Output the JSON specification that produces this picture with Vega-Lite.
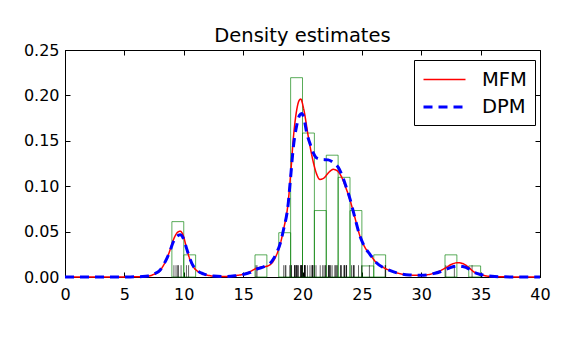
{
  "$schema": "https://vega.github.io/schema/vega-lite/v6.json",
  "width": 475,
  "height": 227,
  "autosize": {"type": "none"},
  "padding": {"left": 65, "top": 50, "right": 46, "bottom": 63},
  "background": "white",
  "title": {"text": "Density estimates", "fontSize": 19.5, "font": "DejaVu Sans", "fontWeight": "normal", "color": "black", "offset": -19, "baseline": "alphabetic", "anchor": "middle"},
  "config": {
    "view": {"stroke": "black", "strokeWidth": 1},
    "axis": {"grid": false, "domainColor": "black", "tickColor": "black", "labelColor": "black", "labelFont": "DejaVu Sans", "labelFontSize": 16, "tickSize": -5, "title": null, "labelFlush": false, "labelOverlap": false}
  },
  "datasets": {
    "hist": [
      {"x0": 9, "x1": 10, "density": 0.06098},
      {"x0": 10, "x1": 11, "density": 0.02439},
      {"x0": 16, "x1": 17, "density": 0.02439},
      {"x0": 18, "x1": 19, "density": 0.04878},
      {"x0": 19, "x1": 20, "density": 0.21951},
      {"x0": 20, "x1": 21, "density": 0.15854},
      {"x0": 21, "x1": 22, "density": 0.07317},
      {"x0": 22, "x1": 23, "density": 0.13415},
      {"x0": 23, "x1": 24, "density": 0.10976},
      {"x0": 24, "x1": 25, "density": 0.07317},
      {"x0": 25, "x1": 26, "density": 0.0122},
      {"x0": 26, "x1": 27, "density": 0.02439},
      {"x0": 32, "x1": 33, "density": 0.02439},
      {"x0": 34, "x1": 35, "density": 0.0122}
    ],
    "rug": [
      {"v": 9.172}, {"v": 9.35}, {"v": 9.483}, {"v": 9.558}, {"v": 9.775}, {"v": 10.227}, {"v": 10.406}, {"v": 16.084}, {"v": 16.17}, {"v": 18.419},
      {"v": 18.552}, {"v": 18.6}, {"v": 18.927}, {"v": 19.052}, {"v": 19.07}, {"v": 19.33}, {"v": 19.343}, {"v": 19.349}, {"v": 19.44}, {"v": 19.473},
      {"v": 19.529}, {"v": 19.541}, {"v": 19.547}, {"v": 19.663}, {"v": 19.846}, {"v": 19.856}, {"v": 19.863}, {"v": 19.914}, {"v": 19.918}, {"v": 19.973},
      {"v": 19.989}, {"v": 20.166}, {"v": 20.175}, {"v": 20.179}, {"v": 20.196}, {"v": 20.215}, {"v": 20.221}, {"v": 20.415}, {"v": 20.629}, {"v": 20.795},
      {"v": 20.821}, {"v": 20.846}, {"v": 20.875}, {"v": 20.986}, {"v": 21.137}, {"v": 21.492}, {"v": 21.701}, {"v": 21.814}, {"v": 21.921}, {"v": 21.96},
      {"v": 22.185}, {"v": 22.209}, {"v": 22.242}, {"v": 22.249}, {"v": 22.314}, {"v": 22.374}, {"v": 22.495}, {"v": 22.746}, {"v": 22.747}, {"v": 22.888},
      {"v": 22.914}, {"v": 23.206}, {"v": 23.241}, {"v": 23.263}, {"v": 23.484}, {"v": 23.538}, {"v": 23.542}, {"v": 23.666}, {"v": 23.706}, {"v": 23.711},
      {"v": 24.129}, {"v": 24.285}, {"v": 24.289}, {"v": 24.366}, {"v": 24.717}, {"v": 24.99}, {"v": 25.633}, {"v": 26.96}, {"v": 26.995}, {"v": 32.065},
      {"v": 32.789}, {"v": 34.279}
    ],
    "mfm": [
      {"model": "MFM", "x": 0, "y": 0}, {"model": "MFM", "x": 2, "y": 0}, {"model": "MFM", "x": 4, "y": 0}, {"model": "MFM", "x": 5.5, "y": 0.0001},
      {"model": "MFM", "x": 6.5, "y": 0.0004}, {"model": "MFM", "x": 7, "y": 0.001}, {"model": "MFM", "x": 7.5, "y": 0.003}, {"model": "MFM", "x": 8, "y": 0.007},
      {"model": "MFM", "x": 8.3, "y": 0.013}, {"model": "MFM", "x": 8.6, "y": 0.021}, {"model": "MFM", "x": 8.85, "y": 0.03}, {"model": "MFM", "x": 9.1, "y": 0.04},
      {"model": "MFM", "x": 9.4, "y": 0.048}, {"model": "MFM", "x": 9.7, "y": 0.0505}, {"model": "MFM", "x": 9.95, "y": 0.046}, {"model": "MFM", "x": 10.25, "y": 0.031},
      {"model": "MFM", "x": 10.5, "y": 0.02}, {"model": "MFM", "x": 10.8, "y": 0.0114}, {"model": "MFM", "x": 11.2, "y": 0.006}, {"model": "MFM", "x": 11.65, "y": 0.0033},
      {"model": "MFM", "x": 12.5, "y": 0.001}, {"model": "MFM", "x": 13.5, "y": 0.0005}, {"model": "MFM", "x": 14.3, "y": 0.0015}, {"model": "MFM", "x": 15, "y": 0.003},
      {"model": "MFM", "x": 15.6, "y": 0.006}, {"model": "MFM", "x": 16.1, "y": 0.0095}, {"model": "MFM", "x": 16.6, "y": 0.011}, {"model": "MFM", "x": 17, "y": 0.0118},
      {"model": "MFM", "x": 17.4, "y": 0.015}, {"model": "MFM", "x": 17.8, "y": 0.024}, {"model": "MFM", "x": 18.1, "y": 0.035}, {"model": "MFM", "x": 18.4, "y": 0.052},
      {"model": "MFM", "x": 18.8, "y": 0.083}, {"model": "MFM", "x": 19, "y": 0.113}, {"model": "MFM", "x": 19.23, "y": 0.153}, {"model": "MFM", "x": 19.5, "y": 0.183},
      {"model": "MFM", "x": 19.7, "y": 0.194}, {"model": "MFM", "x": 19.85, "y": 0.196}, {"model": "MFM", "x": 20.1, "y": 0.185}, {"model": "MFM", "x": 20.49, "y": 0.1545},
      {"model": "MFM", "x": 20.9, "y": 0.127}, {"model": "MFM", "x": 21.2, "y": 0.113}, {"model": "MFM", "x": 21.45, "y": 0.1075}, {"model": "MFM", "x": 21.8, "y": 0.109},
      {"model": "MFM", "x": 22.2, "y": 0.115}, {"model": "MFM", "x": 22.6, "y": 0.1186}, {"model": "MFM", "x": 23, "y": 0.116}, {"model": "MFM", "x": 23.3, "y": 0.11},
      {"model": "MFM", "x": 23.6, "y": 0.1}, {"model": "MFM", "x": 23.94, "y": 0.0875}, {"model": "MFM", "x": 24.4, "y": 0.066}, {"model": "MFM", "x": 24.84, "y": 0.045},
      {"model": "MFM", "x": 25.2, "y": 0.034}, {"model": "MFM", "x": 25.68, "y": 0.025}, {"model": "MFM", "x": 26.2, "y": 0.016}, {"model": "MFM", "x": 26.8, "y": 0.0105},
      {"model": "MFM", "x": 27.4, "y": 0.007}, {"model": "MFM", "x": 28.1, "y": 0.004}, {"model": "MFM", "x": 29, "y": 0.0022}, {"model": "MFM", "x": 30, "y": 0.0018},
      {"model": "MFM", "x": 30.5, "y": 0.0024}, {"model": "MFM", "x": 31, "y": 0.004}, {"model": "MFM", "x": 31.6, "y": 0.0068}, {"model": "MFM", "x": 32.1, "y": 0.0105},
      {"model": "MFM", "x": 32.6, "y": 0.0143}, {"model": "MFM", "x": 33.1, "y": 0.0158}, {"model": "MFM", "x": 33.5, "y": 0.0148}, {"model": "MFM", "x": 34, "y": 0.0105},
      {"model": "MFM", "x": 34.4, "y": 0.0059}, {"model": "MFM", "x": 35, "y": 0.0026}, {"model": "MFM", "x": 35.5, "y": 0.0011}, {"model": "MFM", "x": 36.2, "y": 0.0004},
      {"model": "MFM", "x": 37.5, "y": 0.0001}, {"model": "MFM", "x": 40, "y": 0}
    ],
    "dpm": [
      {"model": "DPM", "x": 0, "y": 0}, {"model": "DPM", "x": 2, "y": 0}, {"model": "DPM", "x": 4, "y": 0}, {"model": "DPM", "x": 5.5, "y": 0.0001},
      {"model": "DPM", "x": 6.5, "y": 0.0005}, {"model": "DPM", "x": 7, "y": 0.0012}, {"model": "DPM", "x": 7.5, "y": 0.0033}, {"model": "DPM", "x": 8, "y": 0.0075},
      {"model": "DPM", "x": 8.3, "y": 0.0135}, {"model": "DPM", "x": 8.6, "y": 0.021}, {"model": "DPM", "x": 8.85, "y": 0.029}, {"model": "DPM", "x": 9.1, "y": 0.038},
      {"model": "DPM", "x": 9.4, "y": 0.0445}, {"model": "DPM", "x": 9.7, "y": 0.0465}, {"model": "DPM", "x": 9.95, "y": 0.043}, {"model": "DPM", "x": 10.25, "y": 0.031},
      {"model": "DPM", "x": 10.5, "y": 0.021}, {"model": "DPM", "x": 10.8, "y": 0.012}, {"model": "DPM", "x": 11.2, "y": 0.0065}, {"model": "DPM", "x": 11.65, "y": 0.0035},
      {"model": "DPM", "x": 12.5, "y": 0.0011}, {"model": "DPM", "x": 13.5, "y": 0.0005}, {"model": "DPM", "x": 14.3, "y": 0.0013}, {"model": "DPM", "x": 15, "y": 0.0028},
      {"model": "DPM", "x": 15.6, "y": 0.005}, {"model": "DPM", "x": 16.1, "y": 0.0085}, {"model": "DPM", "x": 16.6, "y": 0.0105}, {"model": "DPM", "x": 17, "y": 0.0128},
      {"model": "DPM", "x": 17.4, "y": 0.017}, {"model": "DPM", "x": 17.8, "y": 0.026}, {"model": "DPM", "x": 18.1, "y": 0.036}, {"model": "DPM", "x": 18.4, "y": 0.052},
      {"model": "DPM", "x": 18.8, "y": 0.081}, {"model": "DPM", "x": 19, "y": 0.11}, {"model": "DPM", "x": 19.23, "y": 0.143}, {"model": "DPM", "x": 19.5, "y": 0.166},
      {"model": "DPM", "x": 19.75, "y": 0.178}, {"model": "DPM", "x": 19.93, "y": 0.18}, {"model": "DPM", "x": 20.1, "y": 0.176}, {"model": "DPM", "x": 20.35, "y": 0.159},
      {"model": "DPM", "x": 20.63, "y": 0.147}, {"model": "DPM", "x": 20.9, "y": 0.137}, {"model": "DPM", "x": 21.2, "y": 0.131}, {"model": "DPM", "x": 21.6, "y": 0.1295},
      {"model": "DPM", "x": 22.17, "y": 0.129}, {"model": "DPM", "x": 22.6, "y": 0.126}, {"model": "DPM", "x": 23, "y": 0.121}, {"model": "DPM", "x": 23.3, "y": 0.113},
      {"model": "DPM", "x": 23.58, "y": 0.103}, {"model": "DPM", "x": 24, "y": 0.086}, {"model": "DPM", "x": 24.4, "y": 0.066}, {"model": "DPM", "x": 24.84, "y": 0.045},
      {"model": "DPM", "x": 25.2, "y": 0.034}, {"model": "DPM", "x": 25.68, "y": 0.025}, {"model": "DPM", "x": 26.2, "y": 0.016}, {"model": "DPM", "x": 26.8, "y": 0.0105},
      {"model": "DPM", "x": 27.4, "y": 0.007}, {"model": "DPM", "x": 28.1, "y": 0.004}, {"model": "DPM", "x": 29, "y": 0.0022}, {"model": "DPM", "x": 30, "y": 0.0019},
      {"model": "DPM", "x": 30.5, "y": 0.0024}, {"model": "DPM", "x": 31, "y": 0.0037}, {"model": "DPM", "x": 31.6, "y": 0.0058}, {"model": "DPM", "x": 32.1, "y": 0.0085},
      {"model": "DPM", "x": 32.6, "y": 0.011}, {"model": "DPM", "x": 33.1, "y": 0.0121}, {"model": "DPM", "x": 33.5, "y": 0.0115}, {"model": "DPM", "x": 34, "y": 0.009},
      {"model": "DPM", "x": 34.4, "y": 0.0055}, {"model": "DPM", "x": 35, "y": 0.0028}, {"model": "DPM", "x": 35.6, "y": 0.0012}, {"model": "DPM", "x": 36.2, "y": 0.0005},
      {"model": "DPM", "x": 37.5, "y": 0.0001}, {"model": "DPM", "x": 40, "y": 0}
    ]
  },
  "layer": [
    {
      "data": {"name": "hist"},
      "mark": {"type": "rect", "fill": "white", "fillOpacity": 0, "stroke": "#008000", "strokeOpacity": 0.65, "strokeWidth": 1},
      "encoding": {
        "x": {"field": "x0", "type": "quantitative", "scale": {"domain": [0, 40], "nice": false, "zero": false}, "axis": {"orient": "bottom", "values": [0, 5, 10, 15, 20, 25, 30, 35, 40], "labelPadding": 14}},
        "x2": {"field": "x1"},
        "y": {"field": "density", "type": "quantitative", "scale": {"domain": [0, 0.25], "nice": false}, "axis": {"orient": "left", "values": [0, 0.05, 0.1, 0.15, 0.2, 0.25], "format": ".2f", "labelPadding": 11}},
        "y2": {"datum": 0}
      }
    },
    {
      "data": {"name": "rug"},
      "mark": {"type": "rule", "color": "black", "opacity": 0.6, "strokeWidth": 1},
      "encoding": {
        "x": {"field": "v", "type": "quantitative", "axis": null},
        "y": {"datum": 0, "type": "quantitative", "axis": null},
        "y2": {"datum": 0.013}
      }
    },
    {
      "data": {"name": "mfm"},
      "mark": {"type": "line", "interpolate": "monotone"},
      "encoding": {
        "x": {"field": "x", "type": "quantitative", "axis": {"orient": "top", "values": [0, 5, 10, 15, 20, 25, 30, 35, 40], "labels": false, "domain": false}},
        "y": {"field": "y", "type": "quantitative", "axis": {"orient": "right", "values": [0, 0.05, 0.1, 0.15, 0.2, 0.25], "labels": false, "domain": false}},
        "color": {"field": "model", "type": "nominal", "scale": {"domain": ["MFM", "DPM"], "range": ["#ff0000", "#0000ff"]},
          "legend": {"orient": "none", "legendX": 349, "legendY": 10, "title": null, "strokeColor": "black", "fillColor": "white", "padding": 8, "symbolType": "M-1,0H3", "symbolSize": 441, "labelFontSize": 19.5, "labelFont": "DejaVu Sans", "labelColor": "black", "labelOffset": 36, "rowPadding": 6, "cornerRadius": 0}},
        "strokeDash": {"field": "model", "type": "nominal", "scale": {"domain": ["MFM", "DPM"], "range": [[1, 0], [9, 6]]}},
        "strokeWidth": {"field": "model", "type": "nominal", "scale": {"domain": ["MFM", "DPM"], "range": [1.5, 3]}}
      }
    },
    {
      "data": {"name": "dpm"},
      "mark": {"type": "line", "interpolate": "monotone"},
      "encoding": {
        "x": {"field": "x", "type": "quantitative", "axis": null},
        "y": {"field": "y", "type": "quantitative", "axis": null},
        "color": {"field": "model", "type": "nominal"},
        "strokeDash": {"field": "model", "type": "nominal"},
        "strokeWidth": {"field": "model", "type": "nominal"}
      }
    }
  ],
  "resolve": {"axis": {"x": "independent", "y": "independent"}}
}
